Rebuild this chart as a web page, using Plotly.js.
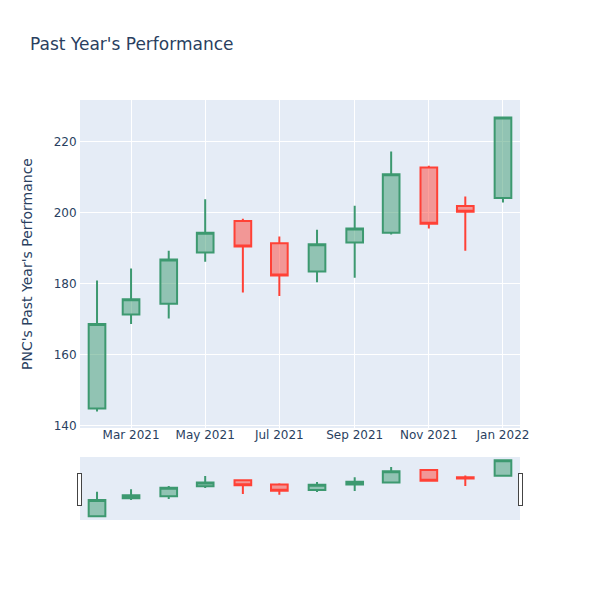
<!DOCTYPE html>
<html>
<head>
<meta charset="utf-8">
<script src="https://cdn.plot.ly/plotly-3.0.1.min.js"></script>
<style>html,body{margin:0;padding:0;background:#fff;}</style>
</head>
<body>
<div id="chart" style="width:600px;height:600px;"></div>
<script>
const dates = ["2021-02-01","2021-03-01","2021-04-01","2021-05-01","2021-06-01","2021-07-01","2021-08-01","2021-09-01","2021-10-01","2021-11-01","2021-12-01","2022-01-01"];
const openVals  = [144.8, 171.3, 174.3, 188.8, 197.7, 191.4, 183.4, 191.6, 194.4, 212.8, 201.9, 204.2];
const highVals  = [180.9, 184.3, 189.3, 203.8, 198.3, 193.3, 195.2, 202.0, 217.3, 213.3, 204.6, 227.2];
const lowVals   = [143.9, 168.6, 170.2, 186.2, 177.5, 176.5, 180.4, 181.7, 193.9, 195.6, 189.3, 202.9];
const closeVals = [168.6, 175.6, 186.8, 194.4, 190.5, 182.3, 191.1, 195.6, 210.9, 196.9, 200.3, 226.9];

const trace = {
  type: 'candlestick',
  x: dates,
  open: openVals,
  high: highVals,
  low: lowVals,
  close: closeVals,
  increasing: {line: {color: '#3D9970'}},
  decreasing: {line: {color: '#FF4136'}}
};

const layout = {
  width: 600,
  height: 600,
  margin: {l: 80, r: 80, t: 100, b: 80},
  paper_bgcolor: '#ffffff',
  plot_bgcolor: '#E5ECF6',
  font: {family: '"DejaVu Sans", verdana, arial, sans-serif', color: '#2a3f5f', size: 12},
  title: {text: "Past Year's Performance", x: 0.05, font: {size: 17, color: '#2a3f5f'}},
  showlegend: false,
  xaxis: {
    type: 'date',
    automargin: true,
    gridcolor: 'white',
    linecolor: 'white',
    zerolinecolor: 'white',
    ticks: '',
    ticklabelstandoff: -4,
    title: {standoff: 15},
    rangeslider: {visible: true, bgcolor: '#E5ECF6'}
  },
  yaxis: {
    automargin: true,
    title: {text: "PNC's Past Year's Performance", standoff: 17},
    gridcolor: 'white',
    linecolor: 'white',
    zerolinecolor: 'white',
    ticks: ''
  }
};

Plotly.newPlot('chart', [trace], layout, {displayModeBar: false});
</script>
</body>
</html>
